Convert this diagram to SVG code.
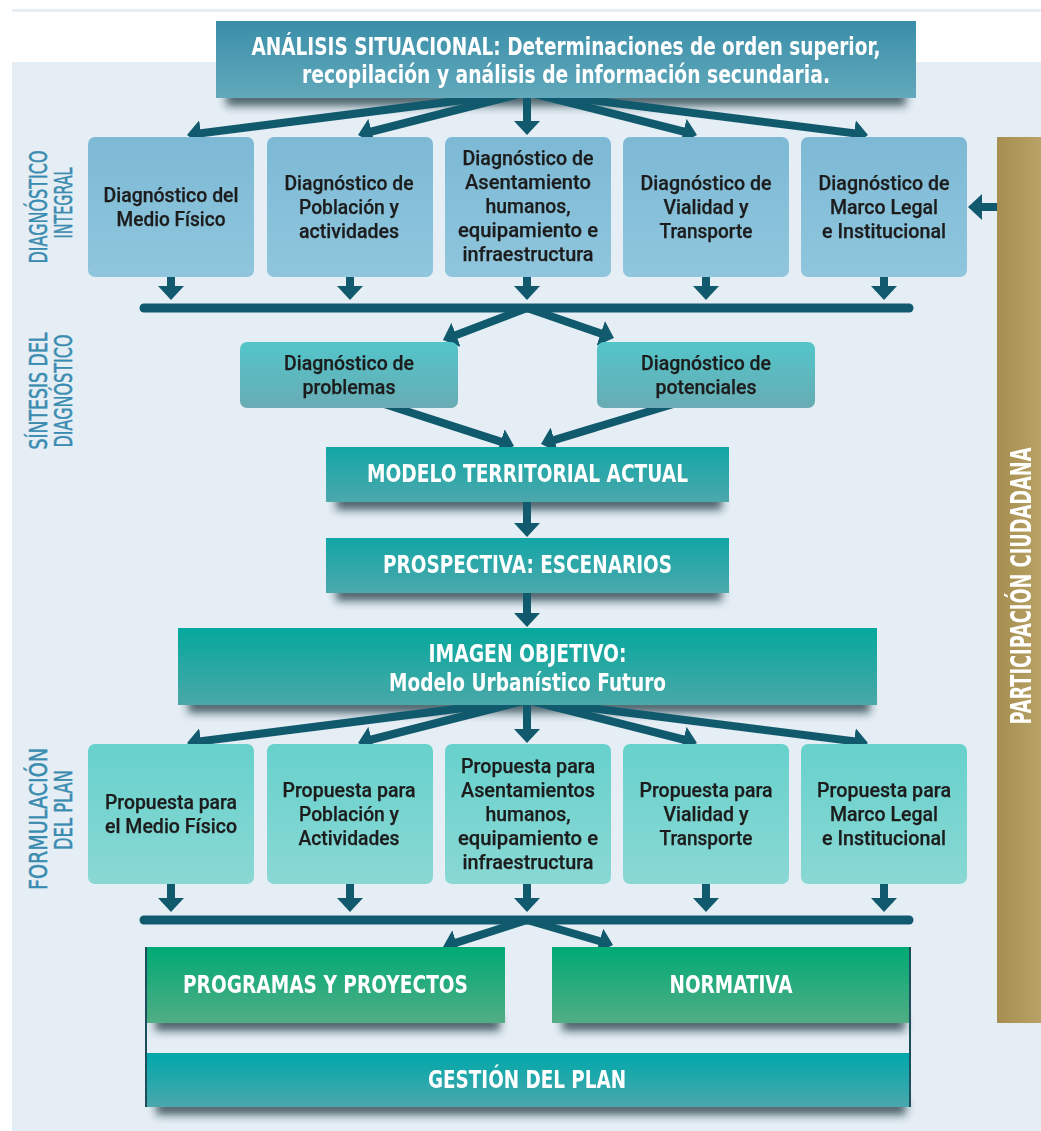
<svg xmlns="http://www.w3.org/2000/svg" width="1041" height="1131" viewBox="0 0 1041 1131">
<defs>
<style>
.t{font-family:"Liberation Sans Narrow","DejaVu Sans Condensed","Liberation Sans",Arial,sans-serif;}
.hd{font-size:25px;font-weight:bold;fill:#ffffff;text-anchor:middle;}
.hm{font-size:24px;font-weight:bold;fill:#ffffff;text-anchor:middle;}
.bx{font-family:Roboto,"Liberation Sans",Arial,sans-serif;font-size:21px;font-weight:500;fill:#1c1c1c;stroke:#1c1c1c;stroke-width:0.25;text-anchor:middle;}
.lb{font-size:24px;fill:#3a8bb0;stroke:#3a8bb0;stroke-width:0.5;text-anchor:middle;}
.pc{font-size:28px;font-weight:bold;fill:#ffffff;text-anchor:middle;}
.cn{stroke:#115a6e;stroke-width:8;fill:none;}
.bar{stroke:#115a6e;stroke-width:9;stroke-linecap:round;fill:none;}
.sh{fill:#1d3741;opacity:0.75;}
</style>
<linearGradient id="gA" x1="0" y1="0" x2="0" y2="1"><stop offset="0" stop-color="#3a8ea9"/><stop offset="1" stop-color="#62a9bb"/></linearGradient>
<linearGradient id="gD" x1="0" y1="0" x2="0" y2="1"><stop offset="0" stop-color="#7db9d5"/><stop offset="1" stop-color="#8fc6dd"/></linearGradient>
<linearGradient id="gS" x1="0" y1="0" x2="0" y2="1"><stop offset="0" stop-color="#52c6ca"/><stop offset="1" stop-color="#69abb4"/></linearGradient>
<linearGradient id="gM" x1="0" y1="0" x2="0" y2="1"><stop offset="0" stop-color="#12a6a5"/><stop offset="1" stop-color="#4ca8ad"/></linearGradient>
<linearGradient id="gI" x1="0" y1="0" x2="0" y2="1"><stop offset="0" stop-color="#05a89d"/><stop offset="1" stop-color="#4aa8a8"/></linearGradient>
<linearGradient id="gP" x1="0" y1="0" x2="0" y2="1"><stop offset="0" stop-color="#67d1cc"/><stop offset="1" stop-color="#8ad8d4"/></linearGradient>
<linearGradient id="gG" x1="0" y1="0" x2="0" y2="1"><stop offset="0" stop-color="#00aa74"/><stop offset="1" stop-color="#52ad85"/></linearGradient>
<linearGradient id="gT" x1="0" y1="0" x2="0" y2="1"><stop offset="0" stop-color="#00a8aa"/><stop offset="1" stop-color="#4aa7ad"/></linearGradient>
<linearGradient id="gO" x1="0" y1="0" x2="1" y2="0"><stop offset="0" stop-color="#a68e50"/><stop offset="1" stop-color="#b8a265"/></linearGradient>
<filter id="blur" x="-10%" y="-100%" width="120%" height="300%"><feGaussianBlur stdDeviation="4"/></filter>
<marker id="ah" markerUnits="userSpaceOnUse" markerWidth="14" markerHeight="26" refX="4" refY="13" orient="auto"><path d="M0,0 L14,13 L0,26 Z" fill="#115a6e"/></marker>
</defs>

<rect x="0" y="0" width="1041" height="1131" fill="#ffffff"/>
<rect x="12" y="9" width="1029" height="3" fill="#e6eef3"/>
<rect x="12" y="62" width="1029" height="1069" fill="#e4eef4"/>

<g id="labels" class="t">
<text class="lb" transform="translate(47,207) rotate(-90)" textLength="113" lengthAdjust="spacingAndGlyphs">DIAGNÓSTICO</text>
<text class="lb" transform="translate(72,203) rotate(-90)" textLength="71" lengthAdjust="spacingAndGlyphs">INTEGRAL</text>
<text class="lb" transform="translate(47,391) rotate(-90)" textLength="117" lengthAdjust="spacingAndGlyphs">SÍNTESIS DEL</text>
<text class="lb" transform="translate(72,391) rotate(-90)" textLength="113" lengthAdjust="spacingAndGlyphs">DIAGNÓSTICO</text>
<text class="lb" transform="translate(47,819) rotate(-90)" textLength="142" lengthAdjust="spacingAndGlyphs">FORMULACIÓN</text>
<text class="lb" transform="translate(72,810) rotate(-90)" textLength="80" lengthAdjust="spacingAndGlyphs">DEL PLAN</text>
</g>

<g id="shadows" filter="url(#blur)">
<rect class="sh" x="226" y="91" width="680" height="15"/>
<rect class="sh" x="336" y="495" width="386" height="15"/>
<rect class="sh" x="336" y="586" width="386" height="15"/>
<rect class="sh" x="188" y="698" width="682" height="15"/>
<rect class="sh" x="155" y="1016" width="345" height="15"/>
<rect class="sh" x="562" y="1016" width="343" height="15"/>
<rect class="sh" x="156" y="1100" width="750" height="15"/>
</g>

<g id="connectors">
<line class="cn" x1="527" y1="92" x2="196.9" y2="133.7" marker-end="url(#ah)"/>
<line class="cn" x1="527" y1="92" x2="367.7" y2="132.5" marker-end="url(#ah)"/>
<line class="cn" x1="527" y1="92" x2="527" y2="125" marker-end="url(#ah)"/>
<line class="cn" x1="527" y1="92" x2="687.3" y2="132.5" marker-end="url(#ah)"/>
<line class="cn" x1="527" y1="92" x2="858.1" y2="133.7" marker-end="url(#ah)"/>
<line class="cn" x1="171" y1="270" x2="171" y2="290" marker-end="url(#ah)"/>
<line class="cn" x1="350" y1="270" x2="350" y2="290" marker-end="url(#ah)"/>
<line class="cn" x1="527" y1="270" x2="527" y2="290" marker-end="url(#ah)"/>
<line class="cn" x1="706" y1="270" x2="706" y2="290" marker-end="url(#ah)"/>
<line class="cn" x1="884" y1="270" x2="884" y2="290" marker-end="url(#ah)"/>
<line class="bar" x1="144" y1="308" x2="909" y2="308"/>
<line class="cn" x1="527" y1="308" x2="452.3" y2="336.4" marker-end="url(#ah)"/>
<line class="cn" x1="527" y1="308" x2="604.5" y2="334.7" marker-end="url(#ah)"/>
<line class="cn" x1="375" y1="401" x2="504.5" y2="442.9" marker-end="url(#ah)"/>
<line class="cn" x1="680" y1="402" x2="550.6" y2="441.1" marker-end="url(#ah)"/>
<line class="cn" x1="527" y1="495" x2="527" y2="527" marker-end="url(#ah)"/>
<line class="cn" x1="527" y1="586" x2="527" y2="617" marker-end="url(#ah)"/>
<line class="cn" x1="527" y1="700" x2="196.9" y2="741.7" marker-end="url(#ah)"/>
<line class="cn" x1="527" y1="700" x2="367.7" y2="740.5" marker-end="url(#ah)"/>
<line class="cn" x1="527" y1="700" x2="527" y2="733" marker-end="url(#ah)"/>
<line class="cn" x1="527" y1="700" x2="687.3" y2="740.5" marker-end="url(#ah)"/>
<line class="cn" x1="527" y1="700" x2="858.1" y2="741.7" marker-end="url(#ah)"/>
<line class="cn" x1="171" y1="878" x2="171" y2="902" marker-end="url(#ah)"/>
<line class="cn" x1="350" y1="878" x2="350" y2="902" marker-end="url(#ah)"/>
<line class="cn" x1="527" y1="878" x2="527" y2="902" marker-end="url(#ah)"/>
<line class="cn" x1="706" y1="878" x2="706" y2="902" marker-end="url(#ah)"/>
<line class="cn" x1="884" y1="878" x2="884" y2="902" marker-end="url(#ah)"/>
<line class="bar" x1="144" y1="920" x2="909" y2="920"/>
<line class="cn" x1="527" y1="920" x2="452.5" y2="943.9" marker-end="url(#ah)"/>
<line class="cn" x1="527" y1="920" x2="603.4" y2="942.2" marker-end="url(#ah)"/>
<line class="cn" x1="1005" y1="207" x2="978" y2="207" marker-end="url(#ah)"/>
</g>

<g id="analisis" class="t">
<rect x="216" y="21" width="700" height="77" fill="url(#gA)"/>
<text class="hd" x="566" y="55" textLength="629" lengthAdjust="spacingAndGlyphs">ANÁLISIS SITUACIONAL: Determinaciones de orden superior,</text>
<text class="hd" x="566" y="83" textLength="528" lengthAdjust="spacingAndGlyphs">recopilación y análisis de información secundaria.</text>
</g>

<g id="diag-medio-fisico" class="t">
<rect x="88" y="137" width="166" height="140" rx="7" fill="url(#gD)"/>
<text class="bx" x="171" y="202" textLength="135" lengthAdjust="spacingAndGlyphs">Diagnóstico del</text>
<text class="bx" x="171" y="226" textLength="109" lengthAdjust="spacingAndGlyphs">Medio Físico</text>
</g>
<g id="diag-poblacion" class="t">
<rect x="267" y="137" width="166" height="140" rx="7" fill="url(#gD)"/>
<text class="bx" x="349" y="190" textLength="129" lengthAdjust="spacingAndGlyphs">Diagnóstico de</text>
<text class="bx" x="349" y="214" textLength="100" lengthAdjust="spacingAndGlyphs">Población y</text>
<text class="bx" x="349" y="238" textLength="100" lengthAdjust="spacingAndGlyphs">actividades</text>
</g>
<g id="diag-asentamientos" class="t">
<rect x="445" y="137" width="166" height="140" rx="7" fill="url(#gD)"/>
<text class="bx" x="528" y="165" textLength="131" lengthAdjust="spacingAndGlyphs">Diagnóstico de</text>
<text class="bx" x="528" y="189" textLength="126" lengthAdjust="spacingAndGlyphs">Asentamiento</text>
<text class="bx" x="528" y="213" textLength="85" lengthAdjust="spacingAndGlyphs">humanos,</text>
<text class="bx" x="528" y="237" textLength="140" lengthAdjust="spacingAndGlyphs">equipamiento e</text>
<text class="bx" x="528" y="261" textLength="131" lengthAdjust="spacingAndGlyphs">infraestructura</text>
</g>
<g id="diag-vialidad" class="t">
<rect x="623" y="137" width="166" height="140" rx="7" fill="url(#gD)"/>
<text class="bx" x="706" y="190" textLength="131" lengthAdjust="spacingAndGlyphs">Diagnóstico de</text>
<text class="bx" x="706" y="214" textLength="85" lengthAdjust="spacingAndGlyphs">Vialidad y</text>
<text class="bx" x="706" y="238" textLength="93" lengthAdjust="spacingAndGlyphs">Transporte</text>
</g>
<g id="diag-marco-legal" class="t">
<rect x="801" y="137" width="166" height="140" rx="7" fill="url(#gD)"/>
<text class="bx" x="884" y="190" textLength="131" lengthAdjust="spacingAndGlyphs">Diagnóstico de</text>
<text class="bx" x="884" y="214" textLength="108" lengthAdjust="spacingAndGlyphs">Marco Legal</text>
<text class="bx" x="884" y="238" textLength="124" lengthAdjust="spacingAndGlyphs">e Institucional</text>
</g>

<g id="diag-problemas" class="t">
<rect x="240" y="342" width="218" height="66" rx="7" fill="url(#gS)"/>
<text class="bx" x="349" y="370" textLength="130" lengthAdjust="spacingAndGlyphs">Diagnóstico de</text>
<text class="bx" x="349" y="394" textLength="93" lengthAdjust="spacingAndGlyphs">problemas</text>
</g>
<g id="diag-potenciales" class="t">
<rect x="597" y="342" width="218" height="66" rx="7" fill="url(#gS)"/>
<text class="bx" x="706" y="370" textLength="130" lengthAdjust="spacingAndGlyphs">Diagnóstico de</text>
<text class="bx" x="706" y="394" textLength="101" lengthAdjust="spacingAndGlyphs">potenciales</text>
</g>

<g id="modelo-actual" class="t">
<rect x="326" y="447" width="403" height="55" fill="url(#gM)"/>
<text class="hm" x="527.5" y="482" textLength="321" lengthAdjust="spacingAndGlyphs">MODELO TERRITORIAL ACTUAL</text>
</g>
<g id="prospectiva" class="t">
<rect x="326" y="538" width="403" height="55" fill="url(#gM)"/>
<text class="hm" x="527.5" y="573" textLength="289" lengthAdjust="spacingAndGlyphs">PROSPECTIVA: ESCENARIOS</text>
</g>
<g id="imagen-objetivo" class="t">
<rect x="178" y="628" width="699" height="77" fill="url(#gI)"/>
<text class="hm" x="527.5" y="662" textLength="198" lengthAdjust="spacingAndGlyphs">IMAGEN OBJETIVO:</text>
<text class="hm" x="527.5" y="691" textLength="277" lengthAdjust="spacingAndGlyphs">Modelo Urbanístico Futuro</text>
</g>

<g id="prop-medio-fisico" class="t">
<rect x="88" y="744" width="166" height="140" rx="7" fill="url(#gP)"/>
<text class="bx" x="171" y="809" textLength="132" lengthAdjust="spacingAndGlyphs">Propuesta para</text>
<text class="bx" x="171" y="833" textLength="132" lengthAdjust="spacingAndGlyphs">el Medio Físico</text>
</g>
<g id="prop-poblacion" class="t">
<rect x="267" y="744" width="166" height="140" rx="7" fill="url(#gP)"/>
<text class="bx" x="349" y="797" textLength="133" lengthAdjust="spacingAndGlyphs">Propuesta para</text>
<text class="bx" x="349" y="821" textLength="100" lengthAdjust="spacingAndGlyphs">Población y</text>
<text class="bx" x="349" y="845" textLength="101" lengthAdjust="spacingAndGlyphs">Actividades</text>
</g>
<g id="prop-asentamientos" class="t">
<rect x="445" y="744" width="166" height="140" rx="7" fill="url(#gP)"/>
<text class="bx" x="528" y="773" textLength="134" lengthAdjust="spacingAndGlyphs">Propuesta para</text>
<text class="bx" x="528" y="797" textLength="134" lengthAdjust="spacingAndGlyphs">Asentamientos</text>
<text class="bx" x="528" y="821" textLength="85" lengthAdjust="spacingAndGlyphs">humanos,</text>
<text class="bx" x="528" y="845" textLength="140" lengthAdjust="spacingAndGlyphs">equipamiento e</text>
<text class="bx" x="528" y="869" textLength="131" lengthAdjust="spacingAndGlyphs">infraestructura</text>
</g>
<g id="prop-vialidad" class="t">
<rect x="623" y="744" width="166" height="140" rx="7" fill="url(#gP)"/>
<text class="bx" x="706" y="797" textLength="133" lengthAdjust="spacingAndGlyphs">Propuesta para</text>
<text class="bx" x="706" y="821" textLength="85" lengthAdjust="spacingAndGlyphs">Vialidad y</text>
<text class="bx" x="706" y="845" textLength="93" lengthAdjust="spacingAndGlyphs">Transporte</text>
</g>
<g id="prop-marco-legal" class="t">
<rect x="801" y="744" width="166" height="140" rx="7" fill="url(#gP)"/>
<text class="bx" x="884" y="797" textLength="134" lengthAdjust="spacingAndGlyphs">Propuesta para</text>
<text class="bx" x="884" y="821" textLength="108" lengthAdjust="spacingAndGlyphs">Marco Legal</text>
<text class="bx" x="884" y="845" textLength="124" lengthAdjust="spacingAndGlyphs">e Institucional</text>
</g>

<g id="programas" class="t">
<rect x="145" y="947" width="360" height="76" fill="url(#gG)"/>
<text class="hm" x="325.5" y="993" textLength="285" lengthAdjust="spacingAndGlyphs">PROGRAMAS Y PROYECTOS</text>
</g>
<g id="normativa" class="t">
<rect x="552" y="947" width="358" height="76" fill="url(#gG)"/>
<text class="hm" x="731" y="993" textLength="123" lengthAdjust="spacingAndGlyphs">NORMATIVA</text>
</g>
<g id="gestion" class="t">
<rect x="146" y="1053" width="764" height="54" fill="url(#gT)"/>
<line x1="146" y1="947" x2="146" y2="1107" stroke="#1b4f5c" stroke-width="2"/>
<line x1="910" y1="947" x2="910" y2="1107" stroke="#1b4f5c" stroke-width="2"/>
<text class="hm" x="527" y="1088" textLength="198" lengthAdjust="spacingAndGlyphs">GESTIÓN DEL PLAN</text>
</g>

<g id="participacion" class="t">
<rect x="997" y="137" width="44" height="886" fill="url(#gO)"/>
<text class="pc" transform="translate(1031,586) rotate(-90)" textLength="277" lengthAdjust="spacingAndGlyphs">PARTICIPACIÓN CIUDADANA</text>
</g>
</svg>
